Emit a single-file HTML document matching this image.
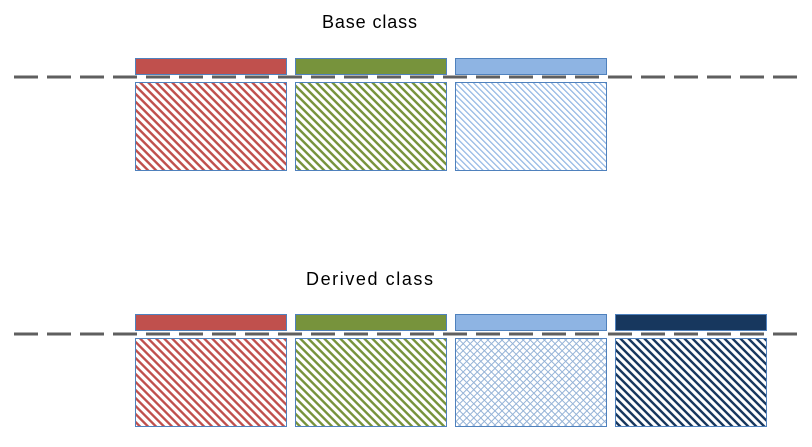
<!DOCTYPE html>
<html><head><style>html,body{margin:0;padding:0;background:#fff;}svg{display:block}</style></head>
<body>
<svg width="812" height="447" xmlns="http://www.w3.org/2000/svg">
<defs>
<pattern id="pr" width="5.66" height="8" patternUnits="userSpaceOnUse" patternTransform="rotate(-45)"><rect width="5.66" height="8" fill="#fff"/><rect width="2.4" height="8" fill="#c0504d"/></pattern>
<pattern id="pg" width="5.66" height="8" patternUnits="userSpaceOnUse" patternTransform="rotate(-45)"><rect width="5.66" height="8" fill="#fff"/><rect width="2.4" height="8" fill="#77933c"/></pattern>
<pattern id="pb" width="4.24" height="6" patternUnits="userSpaceOnUse" patternTransform="rotate(-45)"><rect width="4.24" height="6" fill="#fff"/><rect width="1.2" height="6" fill="#8eb4e3"/></pattern>
<pattern id="pn" width="5.66" height="8" patternUnits="userSpaceOnUse" patternTransform="rotate(-45)"><rect width="5.66" height="8" fill="#fff"/><rect width="2.4" height="8" fill="#17375e"/></pattern>
<pattern id="px" width="5" height="5" patternUnits="userSpaceOnUse" patternTransform="rotate(45)"><rect width="5" height="5" fill="#fff"/><rect width="1" height="5" fill="#95b3d7"/><rect width="5" height="1" fill="#95b3d7"/></pattern>
</defs>
<text x="322" y="28" font-family="Liberation Sans, sans-serif" font-size="18" textLength="95" fill="#000">Base class</text>
<text x="306" y="285" font-family="Liberation Sans, sans-serif" font-size="18" textLength="127" fill="#000">Derived class</text>
<g stroke="#4f81bd" stroke-width="1">
<rect x="135.5" y="58.5" width="151" height="16" fill="#c0504d"/>
<rect x="295.5" y="58.5" width="151" height="16" fill="#77933c"/>
<rect x="455.5" y="58.5" width="151" height="16" fill="#8eb4e3"/>
<rect x="135.5" y="82.5" width="151" height="88" fill="url(#pr)"/>
<rect x="295.5" y="82.5" width="151" height="88" fill="url(#pg)"/>
<rect x="455.5" y="82.5" width="151" height="88" fill="url(#pb)"/>
<rect x="135.5" y="314.5" width="151" height="16" fill="#c0504d"/>
<rect x="295.5" y="314.5" width="151" height="16" fill="#77933c"/>
<rect x="455.5" y="314.5" width="151" height="16" fill="#8eb4e3"/>
<rect x="615.5" y="314.5" width="151" height="16" fill="#17375e"/>
<rect x="135.5" y="338.5" width="151" height="88" fill="url(#pr)"/>
<rect x="295.5" y="338.5" width="151" height="88" fill="url(#pg)"/>
<rect x="455.5" y="338.5" width="151" height="88" fill="url(#px)"/>
<rect x="615.5" y="338.5" width="151" height="88" fill="url(#pn)"/>
</g>
<line x1="14" y1="77" x2="800" y2="77" stroke="#5f5f5f" stroke-width="3" stroke-dasharray="24 9"/>
<line x1="14" y1="334" x2="800" y2="334" stroke="#5f5f5f" stroke-width="3" stroke-dasharray="24 9"/>
</svg>
</body></html>
